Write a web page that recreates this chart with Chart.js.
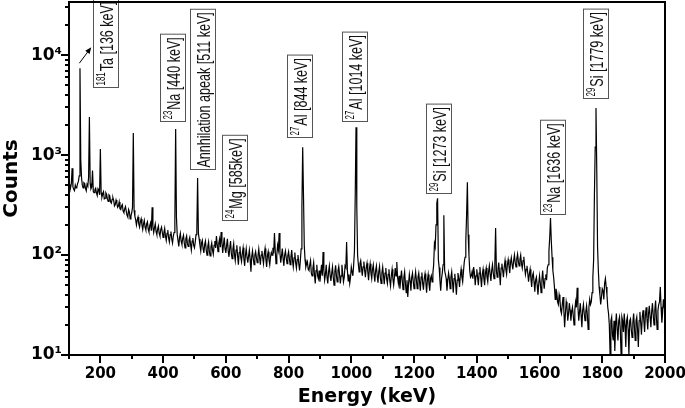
<!DOCTYPE html>
<html>
<head>
<meta charset="utf-8">
<script src="https://cdn.jsdelivr.net/npm/chart.js@4.4.1/dist/chart.umd.min.js"></script>
<style>
  html, body { margin: 0; padding: 0; background: #fff; }
</style>
</head>
<body>
<canvas id="spectrum" width="685" height="408"></canvas>
<script>
// spectrum: counts at 100, 105, ... 2000 keV
const startEnergy = 100;
const stepEnergy = 5;
const counts = [
  430, 470, 740, 455, 500, 480, 545, 7400, 590, 470, 520, 440, 490, 2400, 460, 700, 420, 465, 395, 445,   // 100
  1150, 380, 430, 370, 405, 345, 390, 330, 375, 310, 355, 300, 340, 285, 320, 265, 305, 250, 285, 230,  // 200
  265, 1660, 245, 200, 240, 190, 230, 180, 222, 178, 215, 170, 210, 300, 168, 205, 160, 195, 155, 190,  // 300
  150, 185, 140, 178, 135, 172, 132, 168, 1820, 160, 122, 165, 128, 158, 118, 155, 122, 150, 112, 148,  // 400
  118, 160, 590, 145, 110, 140, 105, 138, 100, 135, 98, 132, 102, 138, 155, 108, 145, 170, 105, 150,    // 500
  105, 145, 96, 138, 92, 130, 88, 125, 80, 122, 86, 118, 78, 116, 84, 112, 68, 110, 80, 108,            // 600
  84, 115, 80, 110, 82, 116, 76, 108, 80, 106, 118, 166, 82, 125, 166, 84, 116, 78, 110, 82,            // 700
  108, 80, 112, 76, 106, 74, 100, 70, 115, 1200, 125, 76, 86, 70, 88, 62, 84, 52, 80, 58,               // 800
  54, 80, 107, 56, 80, 52, 78, 55, 76, 50, 79, 54, 77, 52, 80, 54, 78, 135, 55, 52,                     // 900
  76, 62, 110, 1900, 100, 68, 88, 62, 86, 60, 83, 56, 82, 58, 80, 54, 78, 53, 77, 52,                   // 1000
  76, 51, 74, 52, 72, 49, 72, 50, 74, 85, 52, 46, 70, 45, 68, 42, 38, 64, 44, 66,                       // 1100
  46, 68, 46, 66, 44, 67, 45, 65, 42, 64, 44, 62, 66, 130, 200, 370, 75, 44, 66, 250,                   // 1200
  64, 44, 66, 46, 68, 42, 65, 40, 66, 48, 72, 54, 85, 140, 535, 100, 60, 68, 76, 50,                    // 1300
  72, 50, 76, 48, 72, 50, 74, 54, 78, 55, 80, 58, 186, 60, 84, 50, 82, 60, 88, 64,                      // 1400
  90, 66, 94, 72, 100, 76, 102, 78, 100, 74, 96, 64, 78, 54, 72, 48, 66, 43, 60, 40,                    // 1500
  62, 42, 70, 46, 64, 75, 110, 234, 95, 60, 36, 42, 32, 36, 26, 38, 19, 34, 22, 33,                     // 1600
  22, 30, 20, 34, 47, 22, 33, 19, 32, 22, 31, 18, 36, 34, 60, 400, 2950, 120, 48, 32,                   // 1700
  46, 36, 58, 40, 26, 10, 24, 14, 11, 26, 14, 24, 10, 22, 26, 12, 24, 10, 23, 15,                       // 1800
  26, 14, 24, 12, 27, 16, 28, 17, 30, 18, 31, 19, 33, 20, 35, 18, 32, 48, 21, 36,                       // 1900
  28                                                                                                    // 2000
];
// counts in between, at 102.5, 107.5, ... 1997.5 keV
const countsMid = [
  505, 520, 480, 440, 470, 520, 620, 900, 500, 530, 465, 510, 600, 520, 480, 430, 450, 420, 460, 400,   // 100
  420, 410, 365, 420, 360, 400, 340, 360, 350, 320, 330, 310, 290, 310, 275, 290, 275, 240, 270, 245,   // 200
  300, 280, 225, 225, 205, 215, 200, 205, 190, 205, 182, 198, 175, 190, 188, 172, 182, 165, 180, 168,   // 300
  168, 155, 165, 148, 160, 145, 155, 220, 240, 140, 150, 138, 148, 132, 145, 130, 140, 128, 138, 125,   // 400
  135, 175, 165, 125, 132, 115, 128, 112, 122, 108, 120, 112, 125, 118, 128, 132, 120, 135, 128, 115,   // 500
  125, 110, 118, 104, 115, 100, 112, 98, 106, 95, 104, 92, 100, 95, 98, 90, 96, 92, 100, 94,            // 600
  98, 95, 100, 94, 102, 92, 98, 90, 96, 100, 104, 110, 100, 112, 105, 98, 92, 100, 94, 98,              // 700
  92, 96, 88, 94, 84, 90, 82, 88, 300, 400, 90, 82, 72, 80, 66, 74, 64, 70, 62, 70,                     // 800
  66, 62, 70, 64, 60, 68, 62, 66, 60, 68, 62, 70, 64, 62, 66, 60, 75, 70, 64, 60,                       // 900
  68, 80, 400, 300, 80, 82, 74, 76, 70, 75, 68, 72, 66, 72, 64, 70, 62, 68, 60, 66,                     // 1000
  62, 66, 58, 64, 56, 62, 58, 60, 62, 60, 62, 58, 55, 60, 52, 56, 52, 55, 60, 54,                       // 1100
  58, 56, 60, 54, 60, 52, 58, 54, 56, 52, 58, 54, 80, 120, 330, 90, 56, 58, 80, 70,                     // 1200
  58, 56, 58, 60, 54, 58, 52, 56, 58, 62, 60, 68, 95, 250, 160, 70, 62, 58, 66, 62,                     // 1300
  60, 66, 60, 64, 58, 66, 60, 68, 64, 70, 66, 80, 70, 72, 66, 74, 70, 76, 72, 80,                       // 1400
  78, 84, 80, 88, 84, 92, 86, 90, 82, 88, 76, 72, 66, 64, 58, 62, 54, 56, 50, 52,                       // 1500
  52, 56, 54, 58, 56, 80, 150, 140, 70, 48, 46, 34, 40, 28, 32, 28, 26, 30, 26, 28,                     // 1600
  27, 25, 28, 30, 30, 27, 25, 28, 26, 27, 25, 30, 32, 42, 90, 1200, 700, 70, 40, 38,                    // 1700
  44, 52, 48, 30, 20, 22, 16, 22, 20, 18, 22, 18, 24, 17, 20, 22, 18, 22, 18, 21,                       // 1800
  19, 22, 18, 22, 21, 24, 22, 25, 23, 26, 24, 27, 25, 28, 24, 28, 34, 30, 27, 30                        // 1900
];

const xTicks = [200, 400, 600, 800, 1000, 1200, 1400, 1600, 1800, 2000];
const xMinorTicks = [100, 300, 500, 700, 900, 1100, 1300, 1500, 1700, 1900];
const yTicks = [10, 100, 1000, 10000];
const yTickLabels = ['10¹', '10²', '10³', '10⁴'];

// peak labels: mass number, text, and where the box sits (energy of its centre, counts at its lower edge)
const labelSup = ['181', '23', '', '24', '27', '27', '29', '23', '29'];
const labelText = ['Ta [136 keV]', 'Na [440 keV]', 'Annhilation apeak [511 keV]', 'Mg [585keV]',
                   'Al [844 keV]', 'Al [1014 keV]', 'Si [1273 keV]', 'Na [1636 keV]', 'Si [1779 keV]'];
const labelEnergy = [219, 431, 527, 629, 835, 1012, 1280, 1643, 1780];
const labelCount = [4680, 2140, 708, 219, 1479, 2138, 407, 251, 3630];

const points = [];
counts.forEach((c, i) => {
  const e = startEnergy + i * stepEnergy;
  points.push({ x: e, y: c });
  if (i < countsMid.length) points.push({ x: e + stepEnergy / 2, y: countsMid[i] });
});

const mainFont = '19px "Liberation Sans", Arial, sans-serif';
const supFont = '12px "Liberation Sans", Arial, sans-serif';
const squeeze = 0.66;

function drawPeakLabel(ctx, i, xs, ys) {
  const cx = xs.getPixelForValue(labelEnergy[i]);
  const bottom = ys.getPixelForValue(labelCount[i]);
  ctx.save();
  ctx.translate(Math.round(cx), Math.round(bottom));
  ctx.rotate(-Math.PI / 2);
  ctx.font = supFont;
  const supW = labelSup[i] ? ctx.measureText(labelSup[i]).width * squeeze + 1 : 0;
  ctx.font = mainFont;
  const mainW = ctx.measureText(labelText[i]).width * squeeze;
  const len = supW + mainW + 5;
  ctx.fillStyle = '#fff';
  ctx.fillRect(0, -13, len, 26);
  ctx.strokeStyle = '#555';
  ctx.lineWidth = 1;
  ctx.strokeRect(0.5, -12.5, len, 25);
  ctx.fillStyle = '#111';
  ctx.textBaseline = 'alphabetic';
  ctx.scale(squeeze, 1);
  let pos = 2.5 / squeeze;
  if (labelSup[i]) {
    ctx.font = supFont;
    ctx.fillText(labelSup[i], pos, -1);
    pos += supW / squeeze;
  }
  ctx.font = mainFont;
  ctx.fillText(labelText[i], pos, 6.5);
  ctx.restore();
}

function drawArrow(ctx, xs, ys) {
  const x1 = xs.getPixelForValue(133), y1 = ys.getPixelForValue(8300);
  const x2 = xs.getPixelForValue(171), y2 = ys.getPixelForValue(12000);
  const a = Math.atan2(y2 - y1, x2 - x1);
  ctx.save();
  ctx.strokeStyle = '#000';
  ctx.fillStyle = '#000';
  ctx.lineWidth = 1;
  ctx.beginPath();
  ctx.moveTo(x1, y1);
  ctx.lineTo(x2 - 4 * Math.cos(a), y2 - 4 * Math.sin(a));
  ctx.stroke();
  ctx.beginPath();
  ctx.moveTo(x2, y2);
  ctx.lineTo(x2 - 7 * Math.cos(a - 0.4), y2 - 7 * Math.sin(a - 0.4));
  ctx.lineTo(x2 - 7 * Math.cos(a + 0.4), y2 - 7 * Math.sin(a + 0.4));
  ctx.closePath();
  ctx.fill();
  ctx.restore();
}

const framePlugin = {
  id: 'frame',
  afterDraw(chart) {
    const { ctx, chartArea: area, scales } = chart;
    const xs = scales.x, ys = scales.y;
    ctx.save();
    ctx.strokeStyle = '#000';
    ctx.lineWidth = 2;
    ctx.beginPath();
    xTicks.forEach(v => { const p = Math.round(xs.getPixelForValue(v)); ctx.moveTo(p, area.bottom); ctx.lineTo(p, area.bottom + 8); });
    xMinorTicks.forEach(v => { const p = Math.round(xs.getPixelForValue(v)); ctx.moveTo(p, area.bottom); ctx.lineTo(p, area.bottom + 4); });
    yTicks.forEach(v => { const p = Math.round(ys.getPixelForValue(v)); ctx.moveTo(area.left, p); ctx.lineTo(area.left - 8, p); });
    yTicks.forEach(d => {
      for (let k = 2; k <= 9; k++) {
        if (k * d > ys.max) break;
        const p = Math.round(ys.getPixelForValue(k * d));
        ctx.moveTo(area.left, p); ctx.lineTo(area.left - 4, p);
      }
    });
    ctx.stroke();
    labelText.forEach((t, i) => drawPeakLabel(ctx, i, xs, ys));
    drawArrow(ctx, xs, ys);
    ctx.strokeStyle = '#000';
    ctx.lineWidth = 2;
    ctx.strokeRect(area.left, area.top, area.right - area.left, area.bottom - area.top);
    ctx.restore();
  }
};

const xTickFont = { family: '"DejaVu Sans", sans-serif', weight: 'bold', size: 15 };
const yTickFont = { family: '"DejaVu Sans", sans-serif', weight: 'bold', size: 17 };

// scales add room for their outer labels; the frame here is fixed, so drop that
function noPad(s) {
  s.paddingLeft = 0; s.paddingRight = 0; s.paddingTop = 0; s.paddingBottom = 0;
}

new Chart(document.getElementById('spectrum').getContext('2d'), {
  type: 'line',
  data: {
    datasets: [{
      data: points,
      borderColor: '#000',
      borderWidth: 1.2,
      pointRadius: 0,
      tension: 0,
      fill: false
    }]
  },
  options: {
    responsive: false,
    animation: false,
    layout: { padding: { left: 0, right: 20, top: 2, bottom: 0 } },
    plugins: { legend: { display: false }, tooltip: { enabled: false } },
    scales: {
      x: {
        type: 'linear',
        min: 100,
        max: 2000,
        afterBuildTicks: s => { s.ticks = xTicks.map(v => ({ value: v })); },
        afterFit: s => { s.height = 53; noPad(s); },
        grid: { display: false, drawTicks: false },
        border: { display: false },
        ticks: { font: xTickFont, color: '#000', padding: 10, maxRotation: 0, autoSkip: false, callback: v => String(v) },
        title: { display: true, text: 'Energy (keV)', color: '#000', padding: { top: 0, bottom: 0 },
                 font: { family: '"DejaVu Sans", sans-serif', weight: 'bold', size: 19 } }
      },
      y: {
        type: 'logarithmic',
        min: 10,
        max: 34000,
        afterBuildTicks: s => { s.ticks = yTicks.map(v => ({ value: v })); },
        afterFit: s => { s.width = 69; noPad(s); },
        grid: { display: false, drawTicks: false },
        border: { display: false },
        ticks: {
          font: yTickFont, color: '#000', padding: 7, autoSkip: false,
          callback: v => yTickLabels[yTicks.indexOf(v)]
        },
        title: { display: true, text: 'Counts', color: '#000', padding: { top: 0, bottom: 0 },
                 font: { family: '"DejaVu Sans", sans-serif', weight: 'bold', size: 20 } }
      }
    }
  },
  plugins: [framePlugin]
});
</script>
</body>
</html>
